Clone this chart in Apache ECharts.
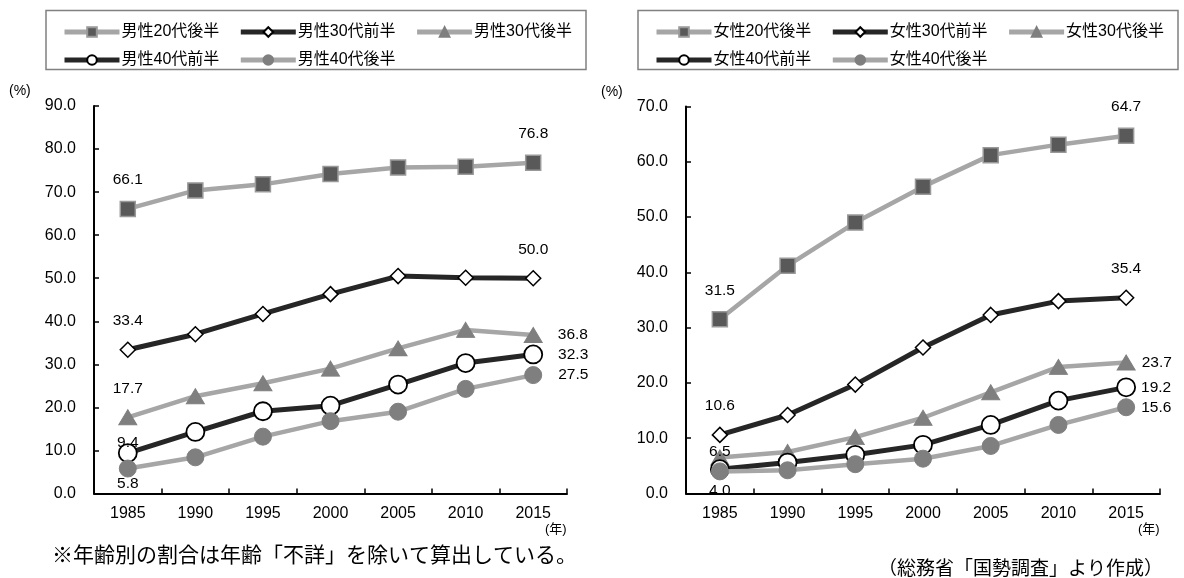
<!DOCTYPE html>
<html>
<head>
<meta charset="utf-8">
<title>未婚率の推移</title>
<script src="https://cdn.jsdelivr.net/npm/echarts@6/dist/echarts.min.js"></script>
<style>
  html, body {margin: 0; padding: 0; background: #fff;}
  #main {width: 1184px; height: 578px;}
</style>
</head>
<body>
<div id="main"></div>
<script>
// 年
var years = ['1985', '1990', '1995', '2000', '2005', '2010', '2015'];

// 男性
var maleNames = ['男性20代後半', '男性30代前半', '男性30代後半', '男性40代前半', '男性40代後半'];
var male20sLate  = [66.1, 70.4, 71.8, 74.2, 75.7, 75.9, 76.8];
var male30sEarly = [33.4, 37.0, 41.7, 46.3, 50.5, 50.1, 50.0];
var male30sLate  = [17.7, 22.6, 25.6, 29.0, 33.7, 38.0, 36.8];
var male40sEarly = [9.4, 14.3, 19.1, 20.4, 25.3, 30.3, 32.3];
var male40sLate  = [5.8, 8.4, 13.2, 16.8, 19.0, 24.3, 27.5];

// 女性
var femaleNames = ['女性20代後半', '女性30代前半', '女性30代後半', '女性40代前半', '女性40代後半'];
var female20sLate  = [31.5, 41.2, 49.0, 55.5, 61.2, 63.1, 64.7];
var female30sEarly = [10.6, 14.2, 19.7, 26.4, 32.3, 34.8, 35.4];
var female30sLate  = [6.5, 7.5, 10.2, 13.7, 18.3, 22.9, 23.7];
var female40sEarly = [4.4, 5.6, 7.0, 8.8, 12.4, 16.8, 19.2];
var female40sLate  = [4.0, 4.2, 5.3, 6.3, 8.6, 12.4, 15.6];

var leftTicks = {min: 0, max: 90, interval: 10};
var rightTicks = {min: 0, max: 70, interval: 10};

var FONT = '"Liberation Sans", Arial, "Noto Sans CJK JP", sans-serif';
var JP = '"Noto Sans CJK JP", sans-serif';
var LIGHT = '#a6a6a6', DARK = '#262626';

// 系列の見た目（順番は名前配列と同じ）
var looks = [
  {color: LIGHT, width: 4.5, symbol: 'rect', size: 15, fill: '#595959', border: '#999', bw: 1.5},
  {color: DARK, width: 5, symbol: 'diamond', size: 15, fill: '#fff', border: '#000', bw: 1.5},
  {color: LIGHT, width: 4.5, symbol: 'triangle', size: [18, 15], fill: '#7f7f7f', border: '#7f7f7f', bw: 1},
  {color: DARK, width: 5, symbol: 'circle', size: 18, fill: '#fff', border: '#000', bw: 1.8},
  {color: LIGHT, width: 4.5, symbol: 'circle', size: 17, fill: '#7f7f7f', border: '#7f7f7f', bw: 1}
];

function lbl(pos, extra) {
  var o = {show: true, position: pos, color: '#000', fontSize: 15.5, fontFamily: FONT,
    formatter: function (p) { return p.value.toFixed(1); }};
  for (var k in extra) o[k] = extra[k];
  return o;
}

// 値ラベルの位置：[系列][[idx, label]]
var leftLabels = [
  [[0, lbl('top', {distance: 13})], [6, lbl('top', {distance: 13})]],
  [[0, lbl('top', {distance: 13})], [6, lbl('top', {distance: 13})]],
  [[0, lbl('top', {distance: 13})], [6, lbl('right', {distance: 15})]],
  [[0, lbl('inside', {offset: [0, -10]})], [6, lbl('right', {distance: 15})]],
  [[0, lbl('inside', {offset: [0, 15]})], [6, lbl('right', {distance: 16})]]
];
var rightLabels = [
  [[0, lbl('top', {distance: 13})], [6, lbl('top', {distance: 13})]],
  [[0, lbl('top', {distance: 13})], [6, lbl('top', {distance: 13})]],
  [[0, lbl('inside', {offset: [0, -6]})], [6, lbl('right', {distance: 6})]],
  [[6, lbl('right', {distance: 5})]],
  [[0, lbl('inside', {offset: [0, 19]})], [6, lbl('right', {distance: 6})]]
];

function buildSeries(names, arrays, labels, axisIdx) {
  return names.map(function (name, i) {
    var lk = looks[i];
    var data = arrays[i].map(function (v) { return {value: v}; });
    labels[i].forEach(function (l) { data[l[0]].label = l[1]; });
    return {
      name: name, type: 'line', xAxisIndex: axisIdx, yAxisIndex: axisIdx,
      data: data, symbol: lk.symbol, symbolSize: lk.size, showAllSymbol: true,
      lineStyle: {color: lk.color, width: lk.width},
      itemStyle: {color: lk.fill, borderColor: lk.border, borderWidth: lk.bw},
      label: {show: false}, emphasis: {disabled: true}, animation: false, z: 2 + i
    };
  });
}

function xAxis(gi) {
  return {
    type: 'category', gridIndex: gi, data: years, boundaryGap: true,
    axisLine: {lineStyle: {color: '#000', width: 2}},
    axisTick: {show: true, inside: true, length: 5, lineStyle: {color: '#000', width: 1.5}},
    axisLabel: {color: '#000', fontSize: 16, fontFamily: FONT, margin: 12}
  };
}
function yAxis(gi, t) {
  return {
    type: 'value', gridIndex: gi, min: t.min, max: t.max, interval: t.interval,
    axisLine: {show: true, lineStyle: {color: '#000', width: 2}},
    axisTick: {show: true, inside: true, length: 5, lineStyle: {color: '#000', width: 1.5}},
    splitLine: {show: false},
    axisLabel: {color: '#000', fontSize: 16, fontFamily: FONT, margin: 18,
      formatter: function (v) { return v.toFixed(1); }}
  };
}

function legends(names, left) {
  var base = {itemWidth: 55, itemHeight: 12, itemGap: 19, selectedMode: false,
    lineStyle: {width: 5},
    textStyle: {color: '#000', fontSize: 16, fontFamily: FONT, padding: [0, 0, 0, -3]}};
  var a = Object.assign({left: left, top: 19, data: names.slice(0, 3)}, base);
  var b = Object.assign({left: left, top: 47, data: names.slice(3)}, base);
  return [a, b];
}

var chart = echarts.init(document.getElementById('main'), null, {renderer: 'canvas'});
chart.setOption({
  backgroundColor: '#fff',
  animation: false,
  textStyle: {fontFamily: FONT},
  legend: legends(maleNames, 57).concat(legends(femaleNames, 649)),
  grid: [
    {left: 94, top: 106, width: 473, height: 387.5},
    {left: 686, top: 106.5, width: 474, height: 387}
  ],
  xAxis: [xAxis(0), xAxis(1)],
  yAxis: [yAxis(0, leftTicks), yAxis(1, rightTicks)],
  series: buildSeries(maleNames, [male20sLate, male30sEarly, male30sLate, male40sEarly, male40sLate], leftLabels, 0)
    .concat(buildSeries(femaleNames, [female20sLate, female30sEarly, female30sLate, female40sEarly, female40sLate], rightLabels, 1)),
  graphic: [
    {type: 'rect', shape: {x: 46, y: 10.5, width: 540, height: 59}, style: {fill: 'none', stroke: '#808080', lineWidth: 1.5}, silent: true},
    {type: 'rect', shape: {x: 638, y: 10.5, width: 540, height: 59}, style: {fill: 'none', stroke: '#808080', lineWidth: 1.5}, silent: true},
    {type: 'text', left: 9, top: 84, style: {text: '(%)', fontSize: 14, fontFamily: FONT, fill: '#000'}},
    {type: 'text', left: 601, top: 85, style: {text: '(%)', fontSize: 14, fontFamily: FONT, fill: '#000'}},
    {type: 'text', left: 545, top: 523, style: {text: '(年)', fontSize: 13, fontFamily: FONT, fill: '#000'}},
    {type: 'text', left: 1138, top: 523, style: {text: '(年)', fontSize: 13, fontFamily: FONT, fill: '#000'}},
    {type: 'text', left: 52, top: 544, style: {text: '※年齢別の割合は年齢「不詳」を除いて算出している。', fontSize: 21, fontFamily: JP, fill: '#000'}},
    {type: 'text', left: 878, top: 558, style: {text: '（総務省「国勢調査」より作成）', fontSize: 19, fontFamily: JP, fill: '#000'}}
  ]
});
window.onresize = chart.resize;
</script>
</body>
</html>
